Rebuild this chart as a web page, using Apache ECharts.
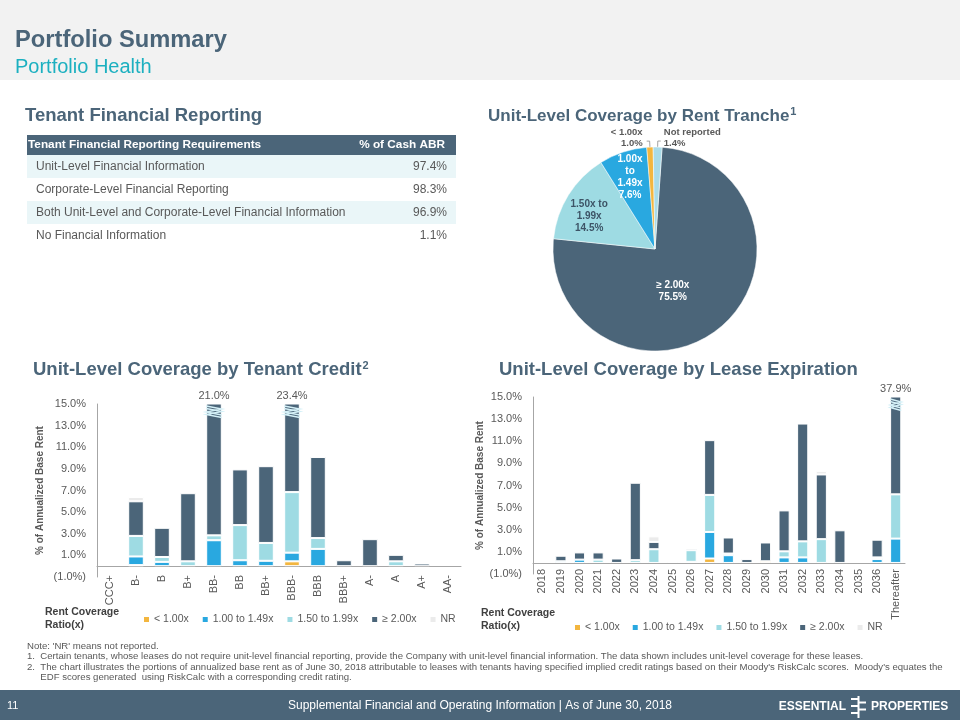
<!DOCTYPE html>
<html><head><meta charset="utf-8">
<script src="https://cdn.jsdelivr.net/npm/echarts@6/dist/echarts.min.js"></script>
<style>html,body{margin:0;padding:0;background:#fff}#c{width:960px;height:720px}</style>
</head><body><div id="c"></div>
<script>
// ---------- DATA ----------
const seriesNames = ['< 1.00x', '1.00 to 1.49x', '1.50 to 1.99x', '≥ 2.00x', 'NR'];

const creditCategories = ['CCC+','B-','B','B+','BB-','BB','BB+','BBB-','BBB','BBB+','A-','A','A+','AA-'];
const creditLt100 = [0, 0.1, 0, 0, 0, 0, 0, 0.45, 0, 0, 0, 0, 0, 0];
const creditBlue  = [0, 0.8, 0.4, 0, 2.4, 0.55, 0.5, 0.8, 1.6, 0, 0, 0, 0, 0];
const creditCyan  = [0, 1.9, 0.45, 0.45, 0.45, 3.25, 1.65, 5.6, 1.0, 0, 0, 0.45, 0, 0];
const creditDark  = [0, 3.2, 2.7, 6.3, 18.15, 5.15, 7.1, 16.55, 7.5, 0.55, 2.5, 0.6, 0.25, 0];
const creditNR    = [0, 0.4, 0, 0, 0, 0, 0, 0, 0, 0, 0, 0.1, 0, 0];

const leaseCategories = ['2018','2019','2020','2021','2022','2023','2024','2025','2026','2027','2028','2029','2030','2031','2032','2033','2034','2035','2036','Thereafter'];
const leaseLt100 = [0, 0, 0, 0, 0, 0, 0, 0, 0.1, 0.4, 0, 0, 0.15, 0, 0, 0, 0, 0, 0, 0];
const leaseBlue  = [0, 0.15, 0.3, 0, 0, 0, 0, 0, 0, 2.4, 0.7, 0, 0, 0.5, 0.5, 0, 0, 0, 0.35, 2.2];
const leaseCyan  = [0, 0, 0, 0.3, 0, 0.25, 1.24, 0, 1.05, 3.35, 0.15, 0, 0, 0.55, 1.45, 2.15, 0, 0, 0.15, 4.0];
const leaseDark  = [0, 0.5, 0.65, 0.65, 0.4, 7.0, 0.66, 0.1, 0.15, 4.95, 1.45, 0.35, 1.7, 3.7, 10.65, 5.85, 2.95, 0, 1.6, 31.7];
const leaseNR    = [0, 0, 0, 0, 0, 0.15, 0.5, 0, 0.1, 0, 0, 0, 0, 0, 0, 0.3, 0, 0, 0, 0];

const yTicksMin = -1, yTicksMax = 15, yTicksStep = 2;

const pieNames  = ['≥ 2.00x', '1.50x to 1.99x', '1.00x to 1.49x', '< 1.00x', 'Not reported'];
const pieValues = [75.5, 14.5, 7.6, 1.0, 1.4];
const pieLabelText = ['≥ 2.00x', '1.50x to\n1.99x', '1.00x\nto\n1.49x', '< 1.00x', 'Not reported'];

const tableHeader = ['Tenant Financial Reporting Requirements', '% of Cash ABR'];
const tableLabels = ['Unit-Level Financial Information', 'Corporate-Level Financial Reporting', 'Both Unit-Level and Corporate-Level Financial Information', 'No Financial Information'];
const tableValues = ['97.4%', '98.3%', '96.9%', '1.1%'];

const notes = [
  "Note: 'NR' means not reported.",
  "1.  Certain tenants, whose leases do not require unit-level financial reporting, provide the Company with unit-level financial information. The data shown includes unit-level coverage for these leases.",
  "2.  The chart illustrates the portions of annualized base rent as of June 30, 2018 attributable to leases with tenants having specified implied credit ratings based on their Moody's RiskCalc scores.  Moody's equates the",
  "     EDF scores generated  using RiskCalc with a corresponding credit rating."
];

// ---------- STYLE ----------
const FONT = "'Liberation Sans', Arial, sans-serif";
const colors = ['#f3b63f', '#29a8e0', '#9edbe3', '#4b6579', '#ebebeb'];
const pieColors = ['#4b6579', '#9edbe3', '#29a8e0', '#f3b63f', '#a9dbe8'];
const slate = '#4b6579';
const gray = '#595959';
const axisGray = '#a6a6a6';

const chart = echarts.init(document.getElementById('c'), null, {renderer: 'canvas'});

function nz(a) { return a.map(v => v === 0 ? null : v); }
function totals(arrs) { return arrs[0].map((_, i) => arrs.reduce((s, a) => s + a[i], 0)); }

const creditSets = [creditLt100, creditBlue, creditCyan, creditDark, creditNR];
const leaseSets = [leaseLt100, leaseBlue, leaseCyan, leaseDark, leaseNR];
const creditTotals = totals(creditSets);
const leaseTotals = totals(leaseSets);

function barSeries(sets, idx, stack) {
  return sets.map((arr, k) => ({
    type: 'bar', name: seriesNames[k], stack: stack,
    xAxisIndex: idx, yAxisIndex: idx,
    barWidth: '60%',
    data: nz(arr),
    itemStyle: {color: colors[k], borderColor: '#fff', borderWidth: 1},
    emphasis: {disabled: true},
    clip: true
  }));
}

function breakSeries(tot, idx) {
  const data = [];
  tot.forEach((t, i) => { if (t > yTicksMax) data.push([i, yTicksMax, t]); });
  return {
    type: 'custom', xAxisIndex: idx, yAxisIndex: idx, clip: false, z: 10,
    data: data,
    encode: {x: 0, y: 1},
    renderItem: function (params, api) {
      const p = api.coord([api.value(0), api.value(1)]);
      const w = api.size([1, 0])[0] * 0.6;
      const x0 = p[0] - w / 2, x1 = p[0] + w / 2, y = p[1];
      const zig = d => [[x0, y + 2 + d], [x1, y + 5 + d], [x0, y + 8 + d], [x1, y + 11 + d]];
      return {
        type: 'group',
        children: [
          {type: 'polyline', shape: {points: zig(0)}, style: {stroke: '#d4f0f7', lineWidth: 1.4, fill: null}},
          {type: 'polyline', shape: {points: zig(2.5)}, style: {stroke: '#d4f0f7', lineWidth: 1.4, fill: null}},
          {type: 'text', x: p[0], y: y - 3, style: {text: api.value(2).toFixed(1) + '%', fill: gray, font: '11px ' + FONT, textAlign: 'center', textVerticalAlign: 'bottom'}}
        ]
      };
    }
  };
}

const yFmt = v => v < 0 ? '(' + Math.abs(v).toFixed(1) + '%)' : v.toFixed(1) + '%';

function xAxisCfg(cats, idx, margin) {
  return {
    type: 'category', gridIndex: idx, data: cats,
    axisLine: {onZero: true, lineStyle: {color: axisGray, width: 1}},
    axisTick: {show: false},
    axisLabel: {rotate: 90, interval: 0, margin: margin, color: gray, fontSize: 11, fontFamily: FONT}
  };
}
function yAxisCfg(idx, gap) {
  return {
    type: 'value', gridIndex: idx, min: yTicksMin, max: yTicksMax, interval: yTicksStep,
    name: '% of Annualized Base Rent', nameLocation: 'middle', nameGap: gap,
    nameTextStyle: {color: gray, fontSize: 10, fontWeight: 'bold', fontFamily: FONT},
    axisLine: {show: true, lineStyle: {color: axisGray, width: 1}},
    axisTick: {show: false}, splitLine: {show: false},
    axisLabel: {color: gray, fontSize: 11, fontFamily: FONT, formatter: yFmt, margin: 11}
  };
}

const pieShift = [[-17, 1], [-20, -4], [-8, -20], [1, -3], [-2, -3]];

// ---------- GRAPHICS (text / table / bands) ----------
const g = [];
g.push({type: 'rect', shape: {x: 0, y: 0, width: 960, height: 80}, style: {fill: '#f2f2f2'}, z: -10});
g.push({type: 'text', x: 15, y: 40, style: {text: 'Portfolio Summary', font: 'bold 23.7px ' + FONT, fill: slate, textVerticalAlign: 'middle'}});
g.push({type: 'text', x: 15, y: 67, style: {text: 'Portfolio Health', font: '20px ' + FONT, fill: '#1cb0c0', textVerticalAlign: 'middle'}});

const headFont = 'bold 18.5px ' + FONT;
g.push({type: 'text', x: 25, y: 116, style: {text: 'Tenant Financial Reporting', font: headFont, fill: slate, textVerticalAlign: 'middle'}});
g.push({type: 'text', x: 488, y: 116, style: {
  text: '{a|Unit-Level Coverage by Rent Tranche}{s|1}', textVerticalAlign: 'middle',
  rich: {a: {font: 'bold 17px ' + FONT, fill: slate}, s: {font: 'bold 11px ' + FONT, fill: slate, padding: [0, 0, 8, 1]}}
}});
g.push({type: 'text', x: 33, y: 370, style: {
  text: '{a|Unit-Level Coverage by Tenant Credit}{s|2}', textVerticalAlign: 'middle',
  rich: {a: {font: headFont, fill: slate}, s: {font: 'bold 11px ' + FONT, fill: slate, padding: [0, 0, 8, 1]}}
}});
g.push({type: 'text', x: 499, y: 370, style: {text: 'Unit-Level Coverage by Lease Expiration', font: headFont, fill: slate, textVerticalAlign: 'middle'}});

// table
const tX = 27, tW = 429, tY = 135, hH = 20, rH = 23;
g.push({type: 'rect', shape: {x: tX, y: tY, width: tW, height: hH}, style: {fill: slate}});
g.push({type: 'text', x: tX + 1, y: tY + hH / 2, style: {text: tableHeader[0], font: 'bold 11.8px ' + FONT, fill: '#fff', textVerticalAlign: 'middle'}});
g.push({type: 'text', x: tX + tW - 11, y: tY + hH / 2, style: {text: tableHeader[1], font: 'bold 11.8px ' + FONT, fill: '#fff', textAlign: 'right', textVerticalAlign: 'middle'}});
tableLabels.forEach((lab, i) => {
  const y = tY + hH + i * rH;
  if (i % 2 === 0) g.push({type: 'rect', shape: {x: tX, y: y, width: tW, height: rH}, style: {fill: '#eaf6f8'}});
  g.push({type: 'text', x: tX + 9, y: y + rH / 2, style: {text: lab, font: '12px ' + FONT, fill: gray, textVerticalAlign: 'middle'}});
  g.push({type: 'text', x: tX + tW - 9, y: y + rH / 2, style: {text: tableValues[i], font: '12px ' + FONT, fill: gray, textAlign: 'right', textVerticalAlign: 'middle'}});
});

// legend titles
const ltFont = 'bold 10.5px ' + FONT;
g.push({type: 'text', x: 45, y: 606, style: {text: 'Rent Coverage\nRatio(x)', font: ltFont, fill: '#404040', lineHeight: 13}});
g.push({type: 'text', x: 481, y: 607, style: {text: 'Rent Coverage\nRatio(x)', font: ltFont, fill: '#404040', lineHeight: 13}});

// notes
const noteY = [646, 656.5, 667, 677.5];
notes.forEach((t, i) => g.push({type: 'text', x: 27, y: noteY[i], style: {text: t, font: '9.6px ' + FONT, fill: gray, textVerticalAlign: 'middle'}}));

// footer
g.push({type: 'rect', shape: {x: 0, y: 690, width: 960, height: 30}, style: {fill: slate}});
g.push({type: 'text', x: 7, y: 706, style: {text: '11', font: '11px ' + FONT, fill: '#fff', textVerticalAlign: 'middle'}});
g.push({type: 'text', x: 480, y: 706, style: {text: 'Supplemental Financial and Operating Information | As of June 30, 2018', font: '12px ' + FONT, fill: '#fff', textAlign: 'center', textVerticalAlign: 'middle'}});
g.push({type: 'text', x: 846, y: 707, style: {text: 'ESSENTIAL', font: 'bold 12px ' + FONT, fill: '#fff', textAlign: 'right', textVerticalAlign: 'middle'}});
g.push({type: 'text', x: 871, y: 707, style: {text: 'PROPERTIES', font: 'bold 12px ' + FONT, fill: '#fff', textVerticalAlign: 'middle'}});
g.push({type: 'rect', shape: {x: 857.5, y: 696, width: 2, height: 22}, style: {fill: '#fff'}});
[699, 706, 713].forEach(y => g.push({type: 'rect', shape: {x: 851, y: y - 1, width: 7, height: 2}, style: {fill: '#fff'}}));
[702.5, 709.5].forEach(y => g.push({type: 'rect', shape: {x: 859, y: y - 1, width: 7, height: 2}, style: {fill: '#fff'}}));

// ---------- OPTION ----------
const option = {
  animation: false,
  backgroundColor: '#fff',
  textStyle: {fontFamily: FONT},
  grid: [
    {left: 97, top: 404, width: 364, height: 173},
    {left: 533, top: 397, width: 372, height: 177}
  ],
  xAxis: [xAxisCfg(creditCategories, 0, -2), xAxisCfg(leaseCategories, 1, -5)],
  yAxis: [yAxisCfg(0, 52), yAxisCfg(1, 47)],
  legend: [
    {left: 139, top: 609, itemWidth: 5, itemHeight: 5, itemGap: 14, icon: 'rect',
     itemStyle: {borderWidth: 0}, textStyle: {color: gray, fontSize: 10.5, fontFamily: FONT}, data: seriesNames, selectedMode: false},
    {left: 570, top: 617, itemWidth: 5, itemHeight: 5, itemGap: 13, icon: 'rect',
     itemStyle: {borderWidth: 0}, textStyle: {color: gray, fontSize: 10.5, fontFamily: FONT}, data: seriesNames, selectedMode: false}
  ],
  graphic: g,
  series: [
    ...barSeries(creditSets, 0, 'credit'),
    ...barSeries(leaseSets, 1, 'lease'),
    breakSeries(creditTotals, 0),
    breakSeries(leaseTotals, 1),
    {
      type: 'pie', center: [655, 249], radius: 102, startAngle: 86, clockwise: true,
      avoidLabelOverlap: false, emphasis: {disabled: true},
      itemStyle: {borderColor: '#fff', borderWidth: 0.5},
      labelLine: {length: 6, length2: 3, lineStyle: {color: '#8c8c8c', width: 0.8}},
      label: {fontSize: 10, fontWeight: 'bold', lineHeight: 12, fontFamily: FONT},
      labelLayout: p => ({dx: pieShift[p.dataIndex][0], dy: pieShift[p.dataIndex][1]}),
      data: pieNames.map((n, i) => ({
        name: n, value: pieValues[i],
        itemStyle: {color: pieColors[i]},
        label: {
          position: i < 3 ? 'inside' : 'outside',
          color: i === 1 ? '#3d5466' : (i < 3 ? '#fff' : gray),
          align: 'center',
          fontSize: i < 3 ? 10 : 9.5,
          lineHeight: i < 3 ? 12 : 11,
          formatter: pieLabelText[i] + '\n' + pieValues[i].toFixed(1) + '%'
        }
      }))
    }
  ]
};
chart.setOption(option);
</script>
</body></html>
